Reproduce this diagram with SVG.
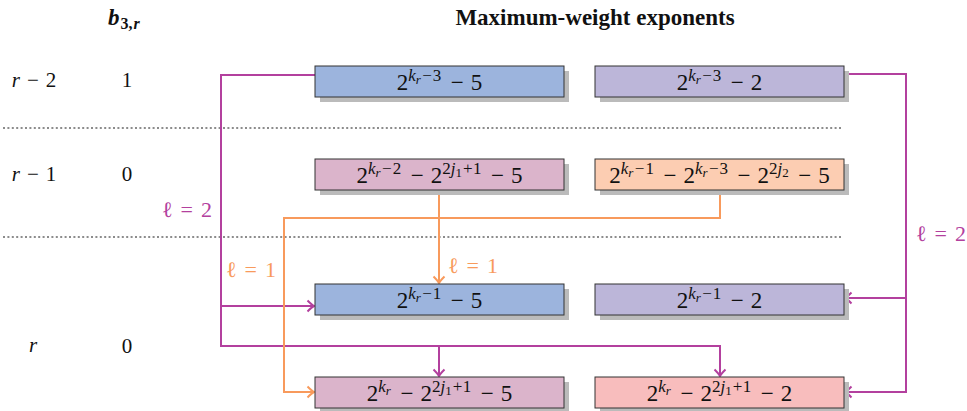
<svg xmlns="http://www.w3.org/2000/svg" width="967" height="411" viewBox="0 0 967 411">
<style>
.t{font-family:"Liberation Serif","DejaVu Serif",serif;fill:#111}
.m{font-family:"Liberation Serif","DejaVu Serif",serif;font-size:23px;fill:#111;text-anchor:middle}
.i{font-style:italic}
.s{font-size:17px}
.ss{font-size:13px}
.sh{fill:#BBBBBB}
.bx{stroke:#333;stroke-width:1}
.dot{stroke:#8C8C8C;stroke-width:2;stroke-dasharray:2 2.4;fill:none}
.mg{stroke:#B3409E;stroke-width:2;fill:none}
.or{stroke:#F89A5C;stroke-width:2;fill:none}
.lab{font-family:"Liberation Serif","DejaVu Serif",serif;font-size:22px}
</style>
<defs>
<marker id="am" markerUnits="userSpaceOnUse" markerWidth="14" markerHeight="14" refX="0" refY="0" viewBox="-8 -7 10 14" orient="auto">
<path d="M-6.5,-5.5 Q-2,-1 0,0 Q-2,1 -6.5,5.5" fill="none" stroke="#B3409E" stroke-width="2"/>
</marker>
<marker id="ao" markerUnits="userSpaceOnUse" markerWidth="14" markerHeight="14" refX="0" refY="0" viewBox="-8 -7 10 14" orient="auto">
<path d="M-6.5,-5.5 Q-2,-1 0,0 Q-2,1 -6.5,5.5" fill="none" stroke="#F89A5C" stroke-width="2"/>
</marker>
</defs>
<rect width="967" height="411" fill="#fff"/>

<g id="headers">
<text class="t" x="595" y="25" font-size="23" font-weight="bold" text-anchor="middle">Maximum-weight exponents</text>
<text class="t" x="108" y="25" font-size="23" font-weight="bold"><tspan class="i">b</tspan><tspan font-size="16" dy="4" dx="1">3,<tspan class="i" dx="1">r</tspan></tspan></text>
</g>

<g id="rowlabels" class="t" font-size="21" text-anchor="middle">
<text x="34" y="87"><tspan class="i">r</tspan><tspan dx="7">−</tspan><tspan dx="7">2</tspan></text>
<text x="127" y="87">1</text>
<text x="34" y="181"><tspan class="i">r</tspan><tspan dx="7">−</tspan><tspan dx="7">1</tspan></text>
<text x="127" y="181">0</text>
<text x="33" y="352" class="i">r</text>
<text x="127" y="353">0</text>
</g>

<g id="separators">
<line class="dot" x1="3" y1="128" x2="841" y2="128"/>
<line class="dot" x1="3" y1="237" x2="841" y2="237"/>
</g>

<g id="connectors">
<path class="mg" d="M315,75 H221 V346 H720 V376" marker-end="url(#am)"/>
<path class="mg" d="M221,306 H314" marker-end="url(#am)"/>
<path class="mg" d="M439,346 V376" marker-end="url(#am)"/>
<path class="mg" d="M844,74 H906 V392 H845" marker-end="url(#am)"/>
<path class="mg" d="M906,298 H845" marker-end="url(#am)"/>
<path class="or" d="M439,190 V283" marker-end="url(#ao)"/>
<path class="or" d="M720,190 V218 H284 V392 H314" marker-end="url(#ao)"/>
<text class="lab" x="212" y="217" fill="#B3409E" text-anchor="end">ℓ<tspan dx="8">=</tspan><tspan dx="8">2</tspan></text>
<text class="lab" x="916" y="241" fill="#B3409E">ℓ<tspan dx="8">=</tspan><tspan dx="8">2</tspan></text>
<text class="lab" x="226" y="277" fill="#F89A5C">ℓ<tspan dx="8">=</tspan><tspan dx="8">1</tspan></text>
<text class="lab" x="448" y="273" fill="#F89A5C">ℓ<tspan dx="8">=</tspan><tspan dx="8">1</tspan></text>
</g>

<g id="n1L">
<rect class="sh" x="320" y="71" width="249" height="31"/>
<rect class="bx" x="315" y="66" width="249" height="31" fill="#9CB4DD"/>
<text class="m" x="439.5" y="90">2<tspan class="s" dy="-9"><tspan class="i">k</tspan><tspan class="ss i" dy="3">r</tspan><tspan dy="-3" dx="1.5">−</tspan><tspan dx="1">3</tspan></tspan><tspan dy="9" dx="9.5">−</tspan><tspan dx="7">5</tspan></text>
</g>
<g id="n1R">
<rect class="sh" x="600" y="71" width="249" height="31"/>
<rect class="bx" x="595" y="66" width="249" height="31" fill="#BCB6D9"/>
<text class="m" x="719.5" y="90">2<tspan class="s" dy="-9"><tspan class="i">k</tspan><tspan class="ss i" dy="3">r</tspan><tspan dy="-3" dx="1.5">−</tspan><tspan dx="1">3</tspan></tspan><tspan dy="9" dx="9.5">−</tspan><tspan dx="7">2</tspan></text>
</g>
<g id="n2L">
<rect class="sh" x="320" y="164" width="249" height="31"/>
<rect class="bx" x="315" y="159" width="249" height="31" fill="#DBB4CB"/>
<text class="m" x="439.5" y="183">2<tspan class="s" dy="-9"><tspan class="i">k</tspan><tspan class="ss i" dy="3">r</tspan><tspan dy="-3" dx="1.5">−</tspan><tspan dx="1">2</tspan></tspan><tspan dy="9" dx="9.5">−</tspan><tspan dx="7">2</tspan><tspan class="s" dy="-9">2<tspan class="i">j</tspan><tspan class="ss" dy="3">1</tspan><tspan dy="-3" dx="1">+</tspan><tspan dx="0.5">1</tspan></tspan><tspan dy="9" dx="9.5">−</tspan><tspan dx="7">5</tspan></text>
</g>
<g id="n2R">
<rect class="sh" x="600" y="164" width="249" height="31"/>
<rect class="bx" x="595" y="159" width="249" height="31" fill="#FCCDB2"/>
<text class="m" x="719.5" y="183">2<tspan class="s" dy="-9"><tspan class="i">k</tspan><tspan class="ss i" dy="3">r</tspan><tspan dy="-3" dx="1.5">−</tspan><tspan dx="1">1</tspan></tspan><tspan dy="9" dx="9.5">−</tspan><tspan dx="7">2</tspan><tspan class="s" dy="-9"><tspan class="i">k</tspan><tspan class="ss i" dy="3">r</tspan><tspan dy="-3" dx="1.5">−</tspan><tspan dx="1">3</tspan></tspan><tspan dy="9" dx="9.5">−</tspan><tspan dx="7">2</tspan><tspan class="s" dy="-9">2<tspan class="i">j</tspan><tspan class="ss" dy="3">2</tspan></tspan><tspan dy="6" dx="9.5">−</tspan><tspan dx="7">5</tspan></text>
</g>
<g id="n3L">
<rect class="sh" x="320" y="289" width="249" height="31"/>
<rect class="bx" x="315" y="284" width="249" height="31" fill="#9CB4DD"/>
<text class="m" x="439.5" y="308">2<tspan class="s" dy="-9"><tspan class="i">k</tspan><tspan class="ss i" dy="3">r</tspan><tspan dy="-3" dx="1.5">−</tspan><tspan dx="1">1</tspan></tspan><tspan dy="9" dx="9.5">−</tspan><tspan dx="7">5</tspan></text>
</g>
<g id="n3R">
<rect class="sh" x="600" y="289" width="249" height="31"/>
<rect class="bx" x="595" y="284" width="249" height="31" fill="#BCB6D9"/>
<text class="m" x="719.5" y="308">2<tspan class="s" dy="-9"><tspan class="i">k</tspan><tspan class="ss i" dy="3">r</tspan><tspan dy="-3" dx="1.5">−</tspan><tspan dx="1">1</tspan></tspan><tspan dy="9" dx="9.5">−</tspan><tspan dx="7">2</tspan></text>
</g>
<g id="n4L">
<rect class="sh" x="320" y="382" width="249" height="31"/>
<rect class="bx" x="315" y="377" width="249" height="31" fill="#DBB4CB"/>
<text class="m" x="439.5" y="401">2<tspan class="s" dy="-9"><tspan class="i">k</tspan><tspan class="ss i" dy="3">r</tspan></tspan><tspan dy="6" dx="9.5">−</tspan><tspan dx="7">2</tspan><tspan class="s" dy="-9">2<tspan class="i">j</tspan><tspan class="ss" dy="3">1</tspan><tspan dy="-3" dx="1">+</tspan><tspan dx="0.5">1</tspan></tspan><tspan dy="9" dx="9.5">−</tspan><tspan dx="7">5</tspan></text>
</g>
<g id="n4R">
<rect class="sh" x="600" y="382" width="249" height="31"/>
<rect class="bx" x="595" y="377" width="249" height="31" fill="#F8BDBD"/>
<text class="m" x="719.5" y="401">2<tspan class="s" dy="-9"><tspan class="i">k</tspan><tspan class="ss i" dy="3">r</tspan></tspan><tspan dy="6" dx="9.5">−</tspan><tspan dx="7">2</tspan><tspan class="s" dy="-9">2<tspan class="i">j</tspan><tspan class="ss" dy="3">1</tspan><tspan dy="-3" dx="1">+</tspan><tspan dx="0.5">1</tspan></tspan><tspan dy="9" dx="9.5">−</tspan><tspan dx="7">2</tspan></text>
</g>
</svg>
